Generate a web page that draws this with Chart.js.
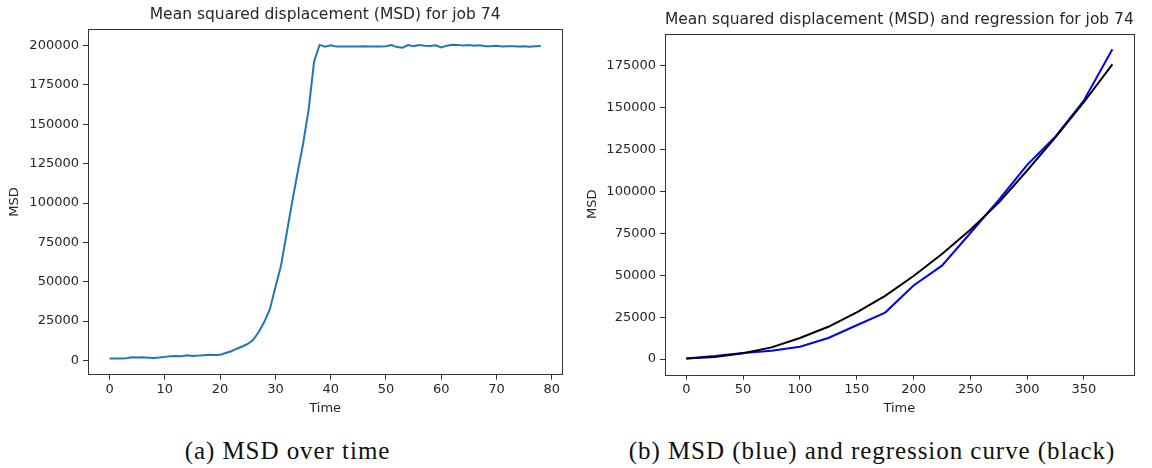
<!DOCTYPE html>
<html>
<head>
<meta charset="utf-8">
<script src="https://cdn.jsdelivr.net/npm/chart.js@4/dist/chart.umd.min.js"></script>
<style>
  body { margin: 0; background: #fff; width: 1152px; height: 468px; position: relative; overflow: hidden; }
  canvas { position: absolute; top: 0; }
  #msdChart { left: 0; }
  #regChart { left: 575px; }
  .caption {
    position: absolute; top: 437px; text-align: center; white-space: nowrap;
    font-family: "Liberation Serif", serif; font-size: 25px; letter-spacing: 0.95px; color: #111;
  }
</style>
</head>
<body>
<canvas id="msdChart" width="575" height="425"></canvas>
<canvas id="regChart" width="577" height="425"></canvas>
<div class="caption" style="left:0;width:575px">(a) MSD over time</div>
<div class="caption" style="left:592px;width:560px">(b) MSD (blue) and regression curve (black)</div>

<script>
// (a) MSD over time
const times = [0, 1, 2, 3, 4, 5, 6, 7, 8, 9, 10, 11, 12, 13, 14, 15, 16, 17, 18, 19,
    20, 21, 22, 23, 24, 25, 26, 27, 28, 29, 30, 31, 32, 33, 34, 35, 36, 37, 38, 39,
    40, 41, 42, 43, 44, 45, 46, 47, 48, 49, 50, 51, 52, 53, 54, 55, 56, 57, 58, 59,
    60, 61, 62, 63, 64, 65, 66, 67, 68, 69, 70, 71, 72, 73, 74, 75, 76, 77, 78];
const msd = [1200, 1100, 1100, 1300, 2000, 1800, 1900, 1700, 1500, 1800,
    2200, 2600, 2700, 2600, 3200, 2800, 3000, 3300, 3500, 3400,
    3500, 4700, 5800, 7400, 8800, 10400, 13000, 18200, 24500, 32500,
    46500, 60000, 80000, 100000, 119000, 137500, 159000, 190000, 200500, 199400,
    200200, 199400, 199500, 199400, 199500, 199400, 199600, 199500, 199400, 199500,
    199700, 200400, 199100, 198700, 200400, 199600, 200400, 199900, 199800, 200200,
    198800, 200000, 200600, 200500, 200100, 200400, 199900, 200200, 199700, 199600,
    199900, 199400, 199600, 199700, 199500, 199600, 199300, 199600, 199800];
const msdXTicks = [0, 10, 20, 30, 40, 50, 60, 70, 80];
const msdYTicks = [0, 25000, 50000, 75000, 100000, 125000, 150000, 175000, 200000];

// (b) MSD and regression
const lagTimes = [0, 25, 50, 75, 100, 125, 150, 175, 200, 225, 250, 275, 300, 325, 350, 375];
const msdBlue = [400, 1800, 3600, 5000, 7400, 12600, 20200, 27800, 44000, 55800, 75300, 95000, 116000, 133000, 154500, 185000];
const regression = [300, 1200, 3500, 7000, 12600, 19300, 27900, 37800, 49600, 62800, 77300, 93400, 112600, 132500, 153500, 176000];
const regXTicks = [0, 50, 100, 150, 200, 250, 300, 350];
const regYTicks = [0, 25000, 50000, 75000, 100000, 125000, 150000, 175000];

const tickFont = { family: 'DejaVu Sans', size: 13 };
const textColor = '#262626';

// matplotlib style box round the plot area
const frame = {
    id: 'frame',
    afterDraw(chart) {
        const a = chart.chartArea;
        const ctx = chart.ctx;
        ctx.save();
        ctx.strokeStyle = '#333';
        ctx.lineWidth = 1;
        ctx.strokeRect(Math.round(a.left) + 0.5, Math.round(a.top) + 0.5,
            Math.round(a.right - a.left), Math.round(a.bottom - a.top));
        ctx.restore();
    }
};

function xAxis(min, max, tickValues) {
    return {
        type: 'linear', min: min, max: max,
        afterBuildTicks: s => { s.ticks = tickValues.map(v => ({ value: v })); },
        afterFit: s => { s.height = 50.3; },
        grid: { display: true, drawOnChartArea: false, drawTicks: true, tickLength: 5, color: '#333' },
        border: { display: false },
        ticks: { font: tickFont, color: textColor, padding: 2, maxRotation: 0, autoSkip: false, callback: v => String(v) },
        title: { display: true, text: 'Time', font: tickFont, color: textColor, padding: { top: 0, bottom: 9 } }
    };
}

function yAxis(min, max, tickValues, width, titleOffset) {
    return {
        type: 'linear', min: min, max: max,
        afterBuildTicks: s => { s.ticks = tickValues.map(v => ({ value: v })); },
        afterFit: s => { s.width = width; },
        grid: { display: true, drawOnChartArea: false, drawTicks: true, tickLength: 5, color: '#333' },
        border: { display: false },
        ticks: { font: tickFont, color: textColor, padding: 4, autoSkip: false, callback: v => String(v) },
        title: { display: true, text: 'MSD', font: tickFont, color: textColor, padding: { top: titleOffset, bottom: 0 } }
    };
}

function titleOpts(text, padTop, padBottom) {
    return {
        display: true, text: text, fullSize: false, color: textColor,
        font: { family: 'DejaVu Sans', size: 15.5, weight: 'normal' },
        padding: { top: padTop, bottom: padBottom }
    };
}

new Chart(document.getElementById('msdChart'), {
    type: 'line',
    data: {
        labels: times,
        datasets: [{
            data: msd,
            borderColor: '#1f77b4',
            borderWidth: 2,
            pointRadius: 0,
            tension: 0
        }]
    },
    options: {
        responsive: false,
        animation: false,
        layout: { autoPadding: false, padding: { left: 0, top: 0, right: 12.7, bottom: 0 } },
        plugins: {
            legend: { display: false },
            tooltip: { enabled: false },
            title: titleOpts('Mean squared displacement (MSD) for job 74', 5.7, 5)
        },
        scales: {
            x: xAxis(-3.9, 81.9, msdXTicks),
            y: yAxis(-9125, 210400, msdYTicks, 88, 6.7)
        }
    },
    plugins: [frame]
});

new Chart(document.getElementById('regChart'), {
    type: 'line',
    data: {
        labels: lagTimes,
        datasets: [{
            data: msdBlue,
            borderColor: '#0000ff',
            borderWidth: 2,
            pointRadius: 0,
            tension: 0,
            order: 1
        }, {
            data: regression,
            borderColor: '#000000',
            borderWidth: 2,
            pointRadius: 0,
            tension: 0,
            order: 0
        }]
    },
    options: {
        responsive: false,
        animation: false,
        layout: { autoPadding: false, padding: { left: 0, top: 0, right: 18.3, bottom: 0 } },
        plugins: {
            legend: { display: false },
            tooltip: { enabled: false },
            title: titleOpts('Mean squared displacement (MSD) and regression for job 74', 10.7, 4.4)
        },
        scales: {
            x: xAxis(-18.75, 393.75, regXTicks),
            y: yAxis(-9300, 194270, regYTicks, 90, 10.2)
        }
    },
    plugins: [frame]
});
</script>
</body>
</html>
